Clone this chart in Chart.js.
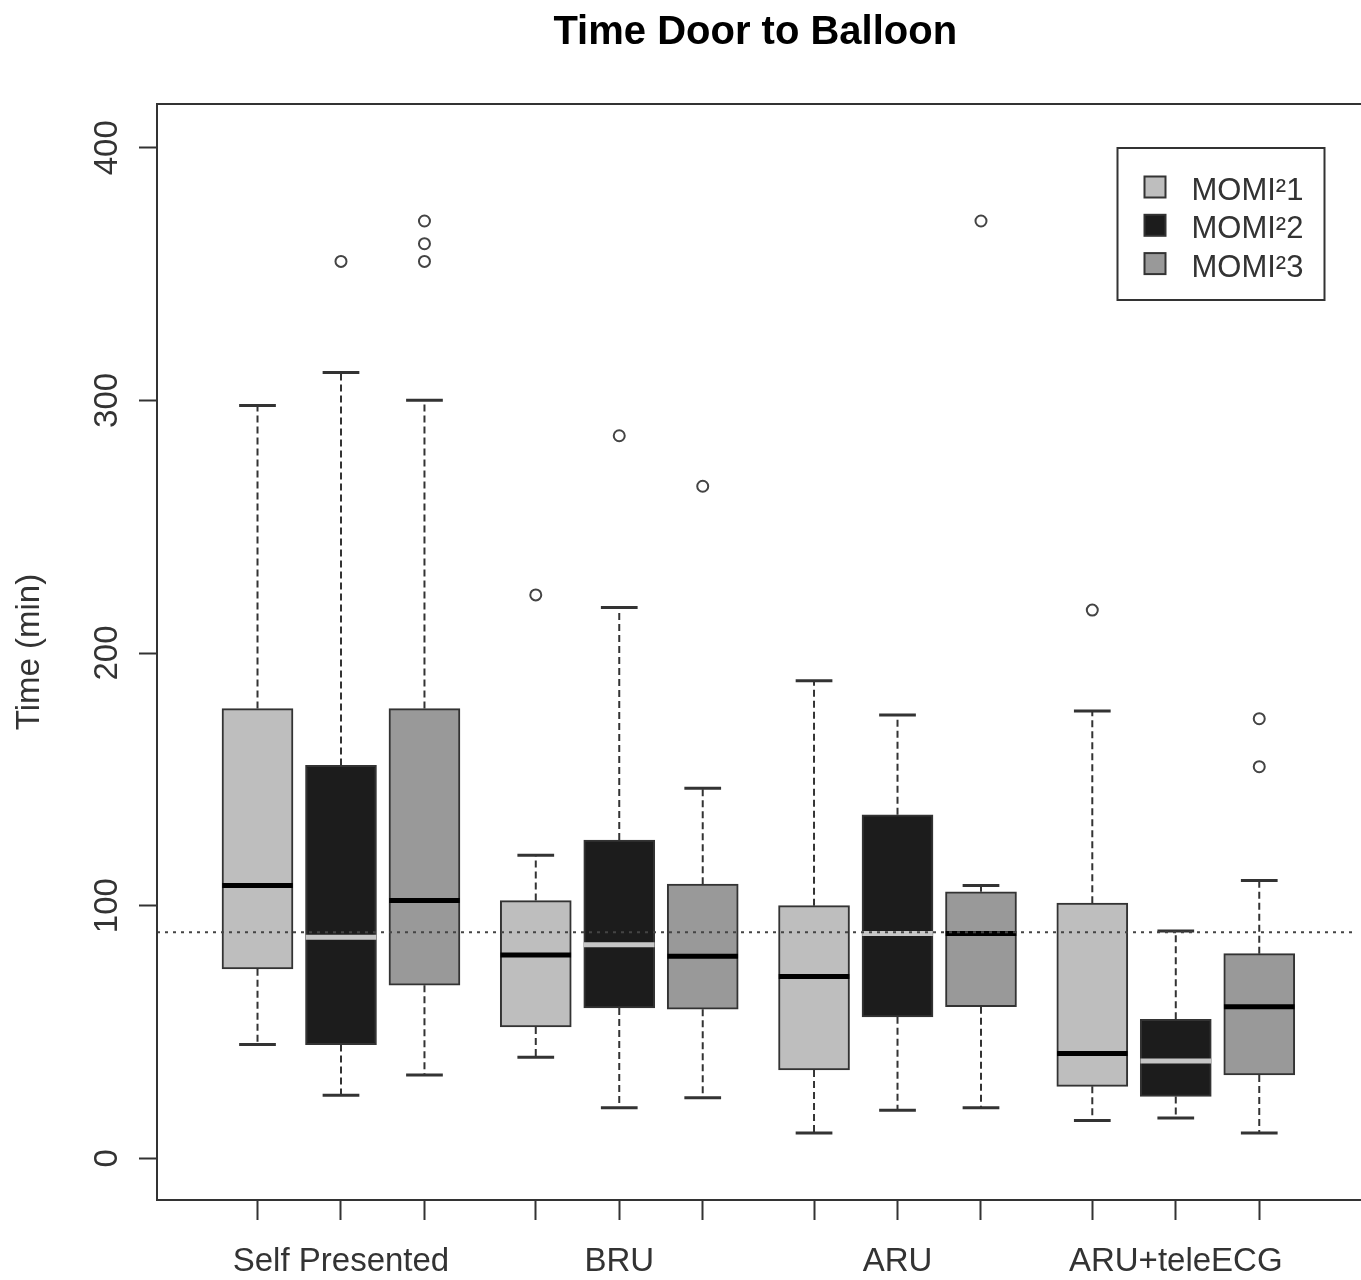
<!DOCTYPE html>
<html>
<head>
<meta charset="utf-8">
<title>Time Door to Balloon</title>
<script src="https://cdn.jsdelivr.net/npm/chart.js@4.4.1/dist/chart.umd.min.js"></script>
<style>
    html, body { margin: 0; padding: 0; background: #fff; overflow: hidden; }
    #wrap { width: 1361px; height: 1280px; position: relative; }
</style>
</head>
<body>
<div id="wrap"><canvas id="chart"></canvas></div>
<script>
// Data
const GROUPS = ["Self Presented", "BRU", "ARU", "ARU+teleECG"];
const SERIES = ["MOMI²1", "MOMI²2", "MOMI²3"];

// per group: [lower whisker, Q1, median, Q3, upper whisker]
const MOMI1 = [[45, 75, 108, 178, 298], [40, 52, 80.5, 102, 120], [10, 35, 72, 100, 189], [15, 28.5, 41.5, 101, 177]];
const MOMI2 = [[25, 45, 87.5, 155.5, 311], [20, 59.5, 84.5, 126, 218], [19, 56, 89, 136, 175.5], [16, 24.5, 38.5, 55, 90]];
const MOMI3 = [[33, 68.5, 102, 178, 300], [24, 59, 80, 108.5, 146.5], [20, 60, 89, 105.5, 108], [10, 33, 60, 81, 110]];

const OUTLIERS1 = [[], [223], [], [217]];
const OUTLIERS2 = [[355], [286], [], []];
const OUTLIERS3 = [[355, 362, 371], [266], [371], [155, 174]];

const REFERENCE = 89.5;
const Y_TICKS = [0, 100, 200, 300, 400];

// Styles
const FONT = '"Liberation Sans", Arial, sans-serif';
const FILLS = ["#bebebe", "#1c1c1c", "#999999"];
const MEDIAN_COLORS = ["#000000", "#c6c6c6", "#000000"];
const INK = "#333333";

const STATS = [MOMI1, MOMI2, MOMI3];
const OUTLIERS = [OUTLIERS1, OUTLIERS2, OUTLIERS3];
const GROUP_STEP = 10 / 3;
const BOX_HALF = 0.423;   // x units
const CAP_HALF = 0.22;
// the plot frame runs a little past the right edge of the picture
const X_MIN = -0.204, X_MAX = 14.129;
const Y_MIN = -16.5, Y_MAX = 417.3;

Chart.defaults.font.family = FONT;

function pos(g, s) {
    return 1 + s + g * GROUP_STEP;
}

var tickPos = [];
GROUPS.forEach((_, g) => SERIES.forEach((_, s) => tickPos.push(pos(g, s))));

var datasets = [];

// dotted reference line
datasets.push({
    type: "line",
    data: [{x: X_MIN, y: REFERENCE}, {x: X_MAX, y: REFERENCE}],
    borderColor: "#444",
    borderWidth: 2,
    borderDash: [3, 5],
    pointRadius: 0,
    order: 0,
});

SERIES.forEach((name, s) => {
    let stats = STATS[s];

    // outliers
    datasets.push({
        type: "scatter",
        data: OUTLIERS[s].flatMap((vals, g) => vals.map(v => ({x: pos(g, s), y: v}))),
        pointRadius: 5.5,
        pointBorderWidth: 2,
        pointBorderColor: "#444",
        pointBackgroundColor: "#fff",
        order: 1,
    });

    // medians
    datasets.push({
        type: "line",
        data: stats.flatMap((b, g) => {
            let p = pos(g, s);
            return [{x: p - BOX_HALF, y: b[2]}, {x: p + BOX_HALF, y: b[2]}, {x: p + BOX_HALF, y: null}];
        }),
        borderColor: MEDIAN_COLORS[s],
        borderWidth: 5,
        pointRadius: 0,
        order: 2,
    });

    // whisker caps
    datasets.push({
        type: "line",
        data: stats.flatMap((b, g) => {
            let p = pos(g, s);
            return [
                {x: p - CAP_HALF, y: b[4]}, {x: p + CAP_HALF, y: b[4]}, {x: p + CAP_HALF, y: null},
                {x: p - CAP_HALF, y: b[0]}, {x: p + CAP_HALF, y: b[0]}, {x: p + CAP_HALF, y: null},
            ];
        }),
        borderColor: INK,
        borderWidth: 3,
        pointRadius: 0,
        order: 3,
    });

    // dashed whiskers
    datasets.push({
        type: "line",
        data: stats.flatMap((b, g) => {
            let p = pos(g, s);
            return [
                {x: p, y: b[3]}, {x: p, y: b[4]}, {x: p, y: null},
                {x: p, y: b[1]}, {x: p, y: b[0]}, {x: p, y: null},
            ];
        }),
        borderColor: INK,
        borderWidth: 2,
        borderDash: [7, 4],
        pointRadius: 0,
        order: 4,
    });

    // boxes Q1..Q3
    datasets.push({
        type: "bar",
        label: name,
        data: stats.map((b, g) => ({x: pos(g, s), y: [b[1], b[3]]})),
        backgroundColor: FILLS[s],
        borderColor: INK,
        borderWidth: 2,
        borderSkipped: false,
        barThickness: 71,
        grouped: false,
        order: 5,
    });
});

const framePlugin = {
    id: "frame",
    afterDraw(chart) {
        let {ctx, chartArea: a} = chart;
        ctx.save();
        ctx.lineWidth = 2;
        ctx.strokeStyle = INK;
        // right side falls outside the canvas
        ctx.strokeRect(a.left, a.top, a.right - a.left + 10, a.bottom - a.top);

        // legend box, top right inside the plot
        let w = 207, h = 152;
        let left = a.right - 29 - w, top = a.top + 44;
        ctx.strokeRect(left, top, w, h);
        ctx.font = "31px " + FONT;
        ctx.textBaseline = "middle";
        SERIES.forEach((name, s) => {
            let cy = top + 38.5 + s * 38.3;
            ctx.fillStyle = FILLS[s];
            ctx.fillRect(left + 27, cy - 10, 21, 21);
            ctx.strokeRect(left + 27, cy - 10, 21, 21);
            ctx.fillStyle = INK;
            ctx.fillText(name, left + 74, cy + 5);
        });
        ctx.restore();
    }
};

new Chart(document.getElementById("chart").getContext("2d"), {
    type: "bar",
    data: {datasets: datasets},
    options: {
        responsive: true,
        maintainAspectRatio: false,
        animation: false,
        events: [],
        layout: {padding: 0},
        scales: {
            x: {
                type: "linear",
                min: X_MIN,
                max: X_MAX,
                offset: false,
                afterBuildTicks: scale => { scale.ticks = tickPos.map(v => ({value: v})); },
                afterFit: scale => { scale.height = 80; },
                ticks: {
                    autoSkip: false,
                    maxRotation: 0,
                    minRotation: 0,
                    padding: 22,
                    color: INK,
                    font: {size: 33},
                    callback: (v, i) => i % 3 === 1 ? GROUPS[(i - 1) / 3] : "",
                },
                grid: {drawOnChartArea: false, offset: false, tickLength: 20, tickColor: INK, tickWidth: 2},
                border: {display: false},
            },
            y: {
                type: "linear",
                min: Y_MIN,
                max: Y_MAX,
                afterBuildTicks: scale => { scale.ticks = Y_TICKS.map(v => ({value: v})); },
                afterFit: scale => { scale.width = 157; },
                ticks: {
                    minRotation: 90,
                    maxRotation: 90,
                    crossAlign: "center",
                    padding: 4,
                    color: INK,
                    font: {size: 33},
                },
                grid: {drawOnChartArea: false, tickLength: 18, tickColor: INK, tickWidth: 2},
                border: {display: false},
                title: {
                    display: true,
                    text: "Time (min)",
                    color: INK,
                    font: {size: 33},
                    padding: {top: 10, bottom: 0},
                },
            },
        },
        plugins: {
            legend: {display: false},
            tooltip: {enabled: false},
            title: {
                display: true,
                fullSize: false,
                text: "Time Door to Balloon",
                color: "#000",
                font: {size: 40, weight: "bold"},
                padding: {top: 9, bottom: 47},
            },
        },
    },
    plugins: [framePlugin],
});
</script>
</body>
</html>
